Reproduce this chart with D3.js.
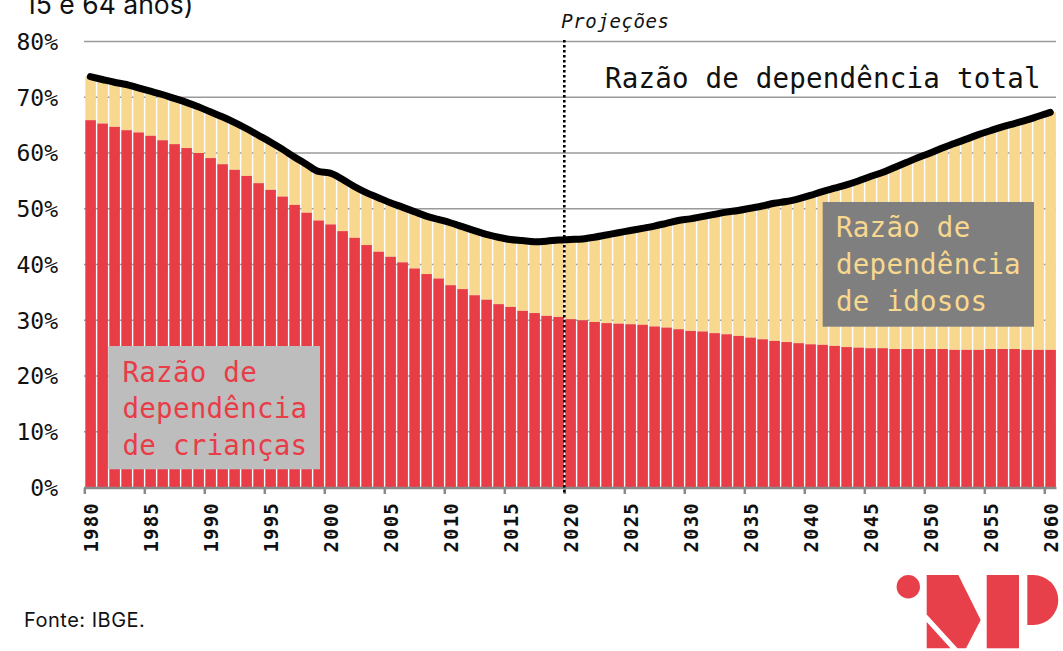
<!DOCTYPE html>
<html>
<head>
<meta charset="utf-8">
<script src="https://cdn.jsdelivr.net/npm/d3@7"></script>
<style>
  html, body { margin: 0; padding: 0; background: #fff; }
  svg { display: block; }
  .mono { font-family: "DejaVu Sans Mono", "Liberation Mono", monospace; }
</style>
</head>
<body>
<svg id="chart" width="1063" height="651"></svg>
<script>
// ---- Data ----
const years = d3.range(1980, 2061);
const childRatio = [
  65.8, 65.2, 64.6, 64.0, 63.6, 63.0, 62.2, 61.5, 60.8, 59.9,
  59.0, 57.9, 56.9, 55.8, 54.5, 53.3, 52.1, 50.6, 49.2, 47.8,
  47.1, 45.9, 44.7, 43.4, 42.2, 41.3, 40.3, 39.2, 38.2, 37.4,
  36.2, 35.5, 34.4, 33.6, 32.8, 32.3, 31.6, 31.2, 30.7, 30.5,
  30.1, 29.9, 29.6, 29.4, 29.3, 29.2, 29.1, 28.8, 28.6, 28.3,
  28.0, 27.9, 27.6, 27.4, 27.1, 26.8, 26.5, 26.2, 26.0, 25.8,
  25.6, 25.5, 25.3, 25.1, 25.0, 24.9, 24.9, 24.75, 24.75, 24.75,
  24.75, 24.75, 24.6, 24.6, 24.6, 24.75, 24.75, 24.75, 24.6, 24.6,
  24.6
];
const totalRatio = [
  73.6, 73.1, 72.6, 72.2, 71.6, 71.0, 70.4, 69.7, 69.0, 68.2,
  67.3, 66.4, 65.4, 64.3, 63.1, 61.9, 60.6, 59.2, 57.9, 56.6,
  56.3, 55.2, 53.9, 52.8, 51.9, 51.0, 50.2, 49.4, 48.6, 48.0,
  47.4, 46.7, 46.0, 45.3, 44.8, 44.4, 44.2, 44.0, 44.1, 44.3,
  44.4, 44.5, 44.8, 45.2, 45.6, 46.0, 46.4, 46.8, 47.3, 47.8,
  48.1, 48.5, 48.9, 49.3, 49.6, 50.0, 50.4, 50.9, 51.2, 51.7,
  52.3, 53.0, 53.6, 54.2, 54.9, 55.7, 56.4, 57.3, 58.2, 59.1,
  59.9, 60.8, 61.6, 62.4, 63.2, 63.9, 64.6, 65.2, 65.8, 66.5,
  67.2
];
const yTicks = [0, 10, 20, 30, 40, 50, 60, 70, 80];
const xTicks = d3.range(1980, 2061, 5);
const projectionYear = 2020;
const labelTotal = "Razão de dependência total";
const labelChildren = ["Razão de", "dependência", "de crianças"];
const labelElderly = ["Razão de", "dependência", "de idosos"];
const labelProj = "Projeções";
const titleTail = "15 e 64 anos)";
const sourceText = "Fonte: IBGE.";

// ---- Styles ----
const RED = "#e83c47";
const YELLOW = "#f8d78f";
const GRID = "#9a9a9a";

const svg = d3.select("#chart");

const x = d3.scaleLinear().domain([1980, 2060]).range([84.3, 1044.3]);
const y = d3.scaleLinear().domain([0, 80]).range([487, 41]);
const barOff = 1, barW = 10.6, midOff = 6;

const rows = years.map((yr, i) => ({ year: yr, child: childRatio[i], total: totalRatio[i] }));

// Title fragment (cut at top, as in the reference)
svg.append("text")
  .attr("x", 25).attr("y", 13.5)
  .attr("font-family", "Inter, 'Liberation Sans', sans-serif")
  .attr("font-size", 26.5).attr("fill", "#111")
  .text(titleTail);

// Y axis + gridlines
const yAxis = d3.axisLeft(y)
  .tickValues(yTicks)
  .tickSize(-(1056 - 84))
  .tickPadding(26)
  .tickFormat(d => d + "%");
const gy = svg.append("g").attr("transform", "translate(84,0)").call(yAxis);
gy.select(".domain").remove();
gy.selectAll(".tick line").attr("stroke", GRID).attr("stroke-width", 1.5);
gy.selectAll(".tick text")
  .attr("class", "mono")
  .attr("font-size", 23)
  .attr("fill", "#111")
  .attr("x", -26)
  .attr("dy", "0.36em");

// Bars: yellow (elderly) stacked above red (children)
svg.append("g").selectAll("rect.eld")
  .data(rows).join("rect")
  .attr("x", d => x(d.year) + barOff)
  .attr("width", barW)
  .attr("y", d => y(d.total))
  .attr("height", d => y(d.child) - y(d.total))
  .attr("fill", YELLOW);

svg.append("g").selectAll("rect.chd")
  .data(rows).join("rect")
  .attr("x", d => x(d.year) + barOff)
  .attr("width", barW)
  .attr("y", d => y(d.child))
  .attr("height", d => y(0) - y(d.child))
  .attr("fill", RED);

// X axis
const xAxis = d3.axisBottom(x)
  .tickValues(xTicks)
  .tickSize(6)
  .tickFormat(d3.format("d"));
const gx = svg.append("g").attr("transform", `translate(0,${y(0) + 1})`).call(xAxis);
gx.select(".domain")
  .attr("stroke", "#8a8a8a").attr("stroke-width", 2.5)
  .attr("d", `M84.3,0H1056.5`);
gx.selectAll(".tick line").attr("stroke", "#8a8a8a").attr("stroke-width", 2.5);
gx.selectAll(".tick text")
  .attr("class", "mono")
  .attr("font-size", 19)
  .attr("font-weight", "bold")
  .attr("letter-spacing", 1.2)
  .attr("fill", "#111")
  .attr("transform", "rotate(-90)")
  .attr("text-anchor", "end")
  .attr("x", -14)
  .attr("y", midOff)
  .attr("dy", "0.36em");

// Projection marker
svg.append("line")
  .attr("x1", x(projectionYear)).attr("x2", x(projectionYear))
  .attr("y1", y(80) - 1).attr("y2", y(0) + 6)
  .attr("stroke", "#000").attr("stroke-width", 2.6)
  .attr("stroke-dasharray", "2.6,2.4");
svg.append("text")
  .attr("class", "mono")
  .attr("x", x(projectionYear) - 3).attr("y", 28.3)
  .attr("font-size", 19).attr("font-style", "italic")
  .attr("letter-spacing", 0.6)
  .attr("fill", "#111")
  .text(labelProj);

// Total line
const line = d3.line()
  .x(d => x(d.year) + midOff)
  .y(d => y(d.total))
  .curve(d3.curveMonotoneX);
svg.append("path")
  .datum(rows)
  .attr("d", line)
  .attr("fill", "none")
  .attr("stroke", "#000")
  .attr("stroke-width", 7)
  .attr("stroke-linecap", "round")
  .attr("stroke-linejoin", "round");

// Total label
svg.append("text")
  .attr("class", "mono")
  .attr("x", 605).attr("y", 88)
  .attr("font-size", 27.5)
  .attr("letter-spacing", 0.2)
  .attr("fill", "#111")
  .text(labelTotal);

// Children annotation box
svg.append("rect")
  .attr("x", 108.3).attr("y", 346)
  .attr("width", 211.7).attr("height", 123.3)
  .attr("fill", "#bdbdbd");
svg.append("g").selectAll("text")
  .data(labelChildren).join("text")
  .attr("class", "mono")
  .attr("x", 122.5)
  .attr("y", (d, i) => 381.7 + i * 36.7)
  .attr("font-size", 27.5)
  .attr("letter-spacing", 0.25)
  .attr("fill", RED)
  .text(d => d);

// Elderly annotation box
svg.append("rect")
  .attr("x", 822.7).attr("y", 202)
  .attr("width", 211.3).attr("height", 124.7)
  .attr("fill", "#7f7f7f");
svg.append("g").selectAll("text")
  .data(labelElderly).join("text")
  .attr("class", "mono")
  .attr("x", 836)
  .attr("y", (d, i) => 237 + i * 36.8)
  .attr("font-size", 27.5)
  .attr("letter-spacing", 0.25)
  .attr("fill", YELLOW)
  .text(d => d);

// Source
svg.append("text")
  .attr("x", 24).attr("y", 627)
  .attr("font-family", "Inter, 'Liberation Sans', sans-serif")
  .attr("font-size", 20).attr("letter-spacing", 0.5).attr("fill", "#111")
  .text(sourceText);

// Logo
const logo = svg.append("g").attr("fill", "#e8404a");
logo.append("circle").attr("cx", 908.3).attr("cy", 586.7).attr("r", 11.7);
logo.append("path").attr("d", "M926.7,575 L958.3,575 L980.7,620 L966,648.3 L957.5,648.3 L926.7,614.5 Z");
logo.append("path").attr("d", "M926.7,622 L926.7,648.3 L950.5,648.3 Z");
logo.append("rect").attr("x", 986.7).attr("y", 575).attr("width", 32.3).attr("height", 73.3);
logo.append("path").attr("d", "M1027.3,575 H1033.3 A25,25 0 0 1 1033.3,625 H1027.3 Z");
</script>
</body>
</html>
